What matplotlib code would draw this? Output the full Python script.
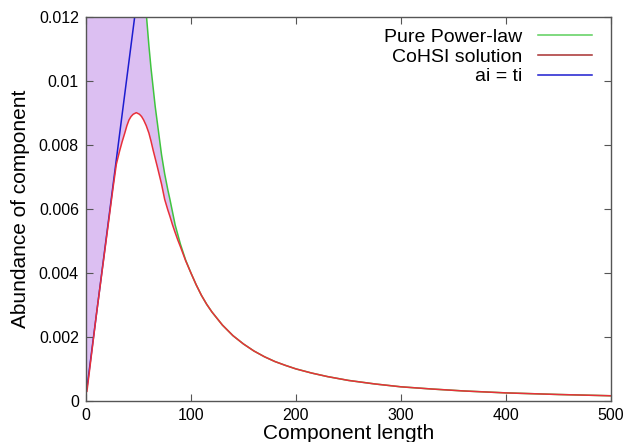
import matplotlib.pyplot as plt
from matplotlib.lines import Line2D
import numpy as np

plt.rcParams['font.family'] = ['Liberation Sans', 'DejaVu Sans']

# component length grid
length = [1, 10, 20, 26, 29, 32, 34.5, 37, 39, 41, 43, 45, 48, 51, 53, 55, 57.5, 60, 62,
          64, 66, 68, 70, 72, 75, 78, 80, 82.5, 85, 87.5, 90, 95, 100, 105, 110, 115,
          120, 130, 140, 150, 160, 170, 180, 190, 200, 215, 230, 250, 275, 300, 330,
          360, 400, 450, 500]

# pure power-law (runs off the top of the frame at small lengths)
power_law = [40, 0.4, 0.1, 0.059, 0.048, 0.039, 0.0336, 0.029, 0.0263, 0.024, 0.0216,
             0.0198, 0.0174, 0.0154, 0.0142, 0.0132, 0.0121, 0.0111, 0.0104, 0.0098,
             0.0092, 0.0087, 0.0082, 0.0077, 0.0071, 0.0066, 0.0063, 0.0059, 0.0055,
             0.0052, 0.0049, 0.0044, 0.0040, 0.00363, 0.0033, 0.00302, 0.00278,
             0.00237, 0.00204, 0.00178, 0.00156, 0.00138, 0.00123, 0.00111, 0.00100,
             0.00087, 0.00076, 0.00064, 0.00053, 0.00044, 0.00037, 0.00031, 0.00025,
             0.00020, 0.00016]

# CoHSI solution
cohsi = [0.0003, 0.0027, 0.0052, 0.0067, 0.0074, 0.0078, 0.0081, 0.00837, 0.0086,
         0.00878, 0.00889, 0.00896, 0.00901, 0.00896, 0.00889, 0.00878, 0.00860,
         0.00837, 0.00812, 0.00784, 0.00758, 0.00732, 0.00705, 0.00678, 0.00630,
         0.00597, 0.00577, 0.00550, 0.00526, 0.00503, 0.00482, 0.00438, 0.0040,
         0.00363, 0.0033, 0.00302, 0.00278, 0.00237, 0.00204, 0.00178, 0.00156,
         0.00138, 0.00123, 0.00111, 0.00100, 0.00087, 0.00076, 0.00064, 0.00053,
         0.00044, 0.00037, 0.00031, 0.00025, 0.00020, 0.00016]

# ai = ti straight line
line_x = [1, 48]
line_y = [0.0004, 0.0124]

fig = plt.figure(figsize=(6.27, 4.42), dpi=100)
ax = fig.add_axes([0.137, 0.093, 0.8375, 0.8685])

ax.fill_between(length, cohsi, power_law, color='#dcbff2', lw=0)
ax.plot(length, power_law, color='#3fc43f', lw=1.1)
ax.plot(line_x, line_y, color='#1c1cd0', lw=1.1)
ax.plot(length, cohsi, color='#e8303a', lw=1.1)

ax.set_xlim(0, 500)
ax.set_ylim(0, 0.012)
ax.set_xticks([0, 100, 200, 300, 400, 500])
ax.set_yticks([0, 0.002, 0.004, 0.006, 0.008, 0.01, 0.012])
ax.set_yticklabels(['0', '0.002', '0.004', '0.006', '0.008', '0.01', '0.012'])
ax.tick_params(direction='in', top=True, right=True, length=5, width=0.8,
               labelsize=11.5, pad=5, color='#555555')
for s in ax.spines.values():
    s.set_color('#555555')
    s.set_linewidth(1.0)

ax.set_xlabel('Component length', fontsize=15, labelpad=1)
ax.set_ylabel('Abundance of component', fontsize=15, labelpad=6)

handles = [Line2D([], [], color='#5ccf5c', lw=1.1),
           Line2D([], [], color='#a83030', lw=1.1),
           Line2D([], [], color='#1c1cd0', lw=1.1)]
ax.legend(handles, ['Pure Power-law', 'CoHSI solution', 'ai = ti'],
          loc='upper right', bbox_to_anchor=(0.979, 0.99), borderaxespad=0,
          frameon=False, markerfirst=False, fontsize=14,
          handlelength=2.8, labelspacing=0.1, handletextpad=0.8)

fig.savefig('out.png', dpi=100)
